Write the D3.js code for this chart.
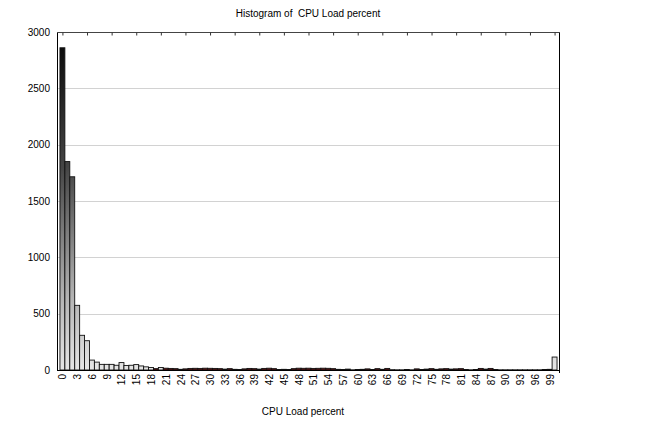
<!DOCTYPE html>
<html>
<head>
<meta charset="utf-8">
<script src="https://cdn.jsdelivr.net/npm/d3@7"></script>
<style>
  html, body { margin: 0; padding: 0; background: #fff; }
  svg text { font-family: "Liberation Sans", Arial, sans-serif; fill: #000; }
</style>
</head>
<body>
<svg id="chart" width="651" height="423"></svg>
<script>
// CPU load percent (0..100) and the number of observations in each bin
const loadPercent = d3.range(0, 101);
const counts = [
  2860, 1850, 1715, 574, 308, 260, 88, 70, 50, 50,
  50, 42, 66, 40, 42, 48, 36, 28, 22, 12,
  22, 16, 14, 12, 6, 10, 14, 15, 14, 16,
  15, 14, 12, 8, 12, 6, 4, 10, 14, 12,
  8, 14, 16, 12, 4, 6, 4, 12, 16, 15,
  16, 14, 15, 16, 15, 12, 6, 4, 8, 2,
  4, 6, 10, 4, 12, 6, 14, 3, 2, 2,
  4, 2, 10, 4, 8, 12, 6, 10, 12, 8,
  10, 12, 4, 2, 4, 14, 8, 14, 4, 2,
  2, 2, 2, 2, 2, 2, 2, 2, 4, 6,
  115
];
const xTickLabels = d3.range(0, 100, 3);
const topTicks = d3.range(0, 101, 5);
const yTicks = [0, 500, 1000, 1500, 2000, 2500, 3000];

const titleText = "Histogram of  CPU Load percent";
const xTitle = "CPU Load percent";

const bins = loadPercent.map((p, i) => ({ p, n: counts[i] }));

const plotL = 57, plotR = 559, plotT = 32, plotB = 370;
const svg = d3.select("#chart");

const x = d3.scaleLinear().domain([-1.1, 100.9]).range([plotL, plotR]);
const y = d3.scaleLinear().domain([0, 3000]).range([plotB, plotT]);
const bw = x(1) - x(0);

// vertical shading shared by all bars: dark at the top, pale at the base
const defs = svg.append("defs");
const grad = defs.append("linearGradient")
  .attr("id", "barShade")
  .attr("gradientUnits", "userSpaceOnUse")
  .attr("x1", 0).attr("x2", 0)
  .attr("y1", y(3000)).attr("y2", y(0));
[["0%", "#050505"], ["40%", "#454545"], ["80%", "#b8b8b8"], ["100%", "#e6e6e6"]]
  .forEach(([o, c]) => grad.append("stop").attr("offset", o).attr("stop-color", c));

// horizontal grid lines
svg.append("g")
  .selectAll("line")
  .data(yTicks.filter(v => v > 0 && v < 3000))
  .join("line")
  .attr("x1", plotL).attr("x2", plotR)
  .attr("y1", d => Math.round(y(d)) + 0.5).attr("y2", d => Math.round(y(d)) + 0.5)
  .attr("stroke", "#d2d2d2").attr("stroke-width", 1);

// bars
svg.append("g")
  .selectAll("rect")
  .data(bins.filter(d => d.n > 0))
  .join("rect")
  .attr("x", d => x(d.p) - bw / 2)
  .attr("width", bw)
  .attr("y", d => y(d.n))
  .attr("height", d => y(0) - y(d.n))
  .attr("fill", d => (d.n >= 8 && d.n <= 16) ? "#6a1212" : "url(#barShade)")
  .attr("stroke", "#111")
  .attr("stroke-width", 0.9);

// frame
const frame = svg.append("g").attr("stroke", "#000").attr("fill", "none");
frame.append("line").attr("x1", plotL + 0.5).attr("x2", plotL + 0.5).attr("y1", plotT).attr("y2", plotB + 1);
frame.append("line").attr("x1", plotR + 0.5).attr("x2", plotR + 0.5).attr("y1", plotT).attr("y2", plotB + 3);
frame.append("line").attr("x1", plotL).attr("x2", plotR + 1).attr("y1", plotB + 0.5).attr("y2", plotB + 0.5);
frame.append("line").attr("x1", plotL).attr("x2", plotR + 1).attr("y1", plotT + 0.5).attr("y2", plotT + 0.5)
  .attr("stroke", "#444");

// top axis: inward tick marks
svg.append("g")
  .attr("transform", `translate(0,${plotT + 0.5})`)
  .call(d3.axisBottom(x).tickValues(topTicks).tickSize(3).tickFormat(""))
  .call(g => g.select(".domain").remove())
  .call(g => g.selectAll("line").attr("stroke", "#333"));

// bottom axis: rotated labels every 3 percent
svg.append("g")
  .attr("transform", `translate(0,${plotB})`)
  .call(d3.axisBottom(x).tickValues(xTickLabels).tickSize(0).tickPadding(0))
  .call(g => g.select(".domain").remove())
  .call(g => g.selectAll("text")
    .attr("font-size", 10)
    .attr("fill", "#111")
    .attr("text-anchor", "end")
    .attr("transform", "rotate(-90)")
    .attr("x", -4)
    .attr("y", 0)
    .attr("dy", "0.35em"));

// left axis labels
svg.append("g")
  .attr("transform", `translate(${plotL},0)`)
  .call(d3.axisLeft(y).tickValues(yTicks).tickSize(0).tickPadding(7).tickFormat(d3.format("d")))
  .call(g => g.select(".domain").remove())
  .call(g => g.selectAll("text").attr("font-size", 10).attr("fill", "#111"));

// titles
svg.append("text")
  .attr("x", 308).attr("y", 17)
  .attr("text-anchor", "middle")
  .attr("font-size", 10)
  .style("white-space", "pre")
  .text(titleText);

svg.append("text")
  .attr("x", 303).attr("y", 415)
  .attr("text-anchor", "middle")
  .attr("font-size", 10)
  .text(xTitle);
</script>
</body>
</html>
